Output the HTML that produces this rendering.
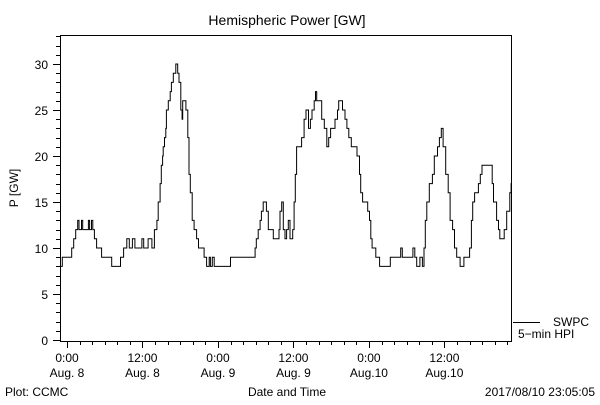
<!DOCTYPE html>
<html><head><meta charset="utf-8"><style>
body{margin:0;background:#fff;width:600px;height:400px;overflow:hidden}
svg text{font-family:"Liberation Sans",sans-serif;font-size:12px;fill:#000}
</style></head><body>
<svg id="chart" width="600" height="400" xmlns="http://www.w3.org/2000/svg">
<text x="287" y="25" text-anchor="middle" style="font-size:14px">Hemispheric Power [GW]</text>
<rect x="60.5" y="35.5" width="451" height="306" fill="none" stroke="#000" stroke-width="1"/>
<g id="yaxis"></g>
<g id="xaxis"></g>
<path id="series" fill="none" stroke="#000" stroke-width="1"/>
<text transform="translate(18,188) rotate(-90)" text-anchor="middle">P [GW]</text>
<line x1="513" y1="322.5" x2="540" y2="322.5" stroke="#000"/>
<text x="553" y="326">SWPC</text>
<text x="518" y="338">5−min HPI</text>
<text x="5" y="396">Plot: CCMC</text>
<text x="287" y="396" text-anchor="middle">Date and Time</text>
<text x="595" y="396" text-anchor="end">2017/08/10 23:05:05</text>
</svg>
<script>
const hours=[-1.06,-0.74,0.74,1.06,1.38,1.7,1.9,2.3,2.5,3.4,
3.6,3.9,4.1,4.35,4.7,5.5,7.1,8.5,9.0,9.5,
9.9,10.4,10.8,11.9,12.2,12.9,13.5,13.9,14.3,14.5,
14.8,15.0,15.2,15.3,15.5,15.7,15.8,16.1,16.4,16.6,
16.9,17.3,17.6,17.8,18.1,18.3,18.4,18.7,18.9,19.2,
19.4,19.6,19.9,20.2,20.6,20.9,21.8,22.2,22.6,22.8,
23.1,23.4,26.0,29.9,30.1,30.4,30.7,30.9,31.2,31.7,
32.0,32.8,33.7,
33.86,34.13,34.39,34.66,34.92,35.19,35.45,35.88,36.1,36.3,36.5,
37.3,37.7,38.0,38.4,38.7,38.95,39.3,39.5,39.7,40.5,
40.9,41.3,41.6,41.9,42.6,43.0,43.2,43.8,44.2,44.5,
44.8,45.2,46.1,46.5,46.7,47.0,47.8,48.1,48.3,48.5,
49.1,49.7,51.4,53.05,53.3,55.0,55.3,55.6,56.1,56.5,
56.75,56.97,57.2,57.6,58.1,58.4,58.9,59.2,59.5,59.8,
60.2,60.6,60.9,61.3,61.6,61.95,62.5,63.1,64.0,64.3,
64.5,64.8,65.4,65.7,65.97,67.6,67.8,68.3,68.6,68.8,
69.5,69.9,70.4,70.6];
const values=[8,9,10,11,12,13,12,13,12,13,
12,13,12,11,10,9,8,9,10,11,
10,11,10,11,10,11,10,12,13,15,
17,19,20,21,22,23,25,26,27,28,
29,30,29,28,25,24,26,26,25,22,
18,16,13,12,11,10,9,8,9,8,
9,8,9,10,11,12,13,14,15,14,
12,11,12,
14,15,12,11,12,13,11,12,15,18,21,
22,24,25,23,24,25,26,27,26,24,
23,21,22,23,24,25,26,25,24,23,
22,21,20,18,16,15,14,13,11,10,
9,8,9,10,9,10,9,8,9,8,
10,13,15,17,18,20,21,22,23,21,
18,16,13,12,10,9,8,9,10,13,
15,16,17,18,19,17,15,13,12,11,
12,14,16,17];
const yTickLabels=[0,5,10,15,20,25,30];
const xTickHours=[0,12,24,36,48,60];
const xTickTimes=["0:00","12:00","0:00","12:00","0:00","12:00"];
const xTickDates=["Aug. 8","Aug. 8","Aug. 9","Aug. 9","Aug.10","Aug.10"];
const X0=67, XPH=6.29, Y0=340, YPU=9.2, LEFT=60.5, RIGHT=511.5, BOTTOM=341.5;
const sx=h=>Math.min(RIGHT,Math.max(LEFT,X0+h*XPH));
const sy=v=>Y0-v*YPU;
const NS="http://www.w3.org/2000/svg";
let d="";
const n=Math.min(hours.length,values.length);
for(let i=0;i<n;i++){
  const x=sx(hours[i]).toFixed(1), y=sy(values[i]).toFixed(1);
  if(i===0) d+="M"+x+","+y; else d+="V"+y;
  const nx=i+1<n?sx(hours[i+1]):RIGHT;
  d+="H"+nx.toFixed(1);
}
document.getElementById('series').setAttribute('d',d);
const ya=document.getElementById('yaxis');
for(let v=0;v<=33;v++){
  const l=document.createElementNS(NS,'line');
  
  
  const y=Math.round(sy(v))+0.5;
  l.setAttribute('x1',v%5===0?53:56);l.setAttribute('x2',60.5);
  l.setAttribute('y1',y);l.setAttribute('y2',y);l.setAttribute('stroke','#000');
  ya.appendChild(l);
}
yTickLabels.forEach(v=>{
  const t=document.createElementNS(NS,'text');
  
  
  t.setAttribute('x',48);t.setAttribute('y',sy(v)+5);t.setAttribute('text-anchor','end');
  t.textContent=v;ya.appendChild(t);
});
const xa=document.getElementById('xaxis');
for(let h=0;h<=70;h+=2){
  const l=document.createElementNS(NS,'line');
  
  
  const x=Math.round(sx(h))+0.5;
  l.setAttribute('x1',x);l.setAttribute('x2',x);
  l.setAttribute('y1',BOTTOM);l.setAttribute('y2',h%12===0?348:345);l.setAttribute('stroke','#000');
  xa.appendChild(l);
}
xTickHours.forEach((h,i)=>{
  const t=document.createElementNS(NS,'text');
  
  
  t.setAttribute('x',sx(h));t.setAttribute('y',362);t.setAttribute('text-anchor','middle');
  t.textContent=xTickTimes[i];xa.appendChild(t);
  const t2=document.createElementNS(NS,'text');
  
  
  t2.setAttribute('x',sx(h));t2.setAttribute('y',377);t2.setAttribute('text-anchor','middle');
  t2.textContent=xTickDates[i];xa.appendChild(t2);
});
</script>
</body></html>
